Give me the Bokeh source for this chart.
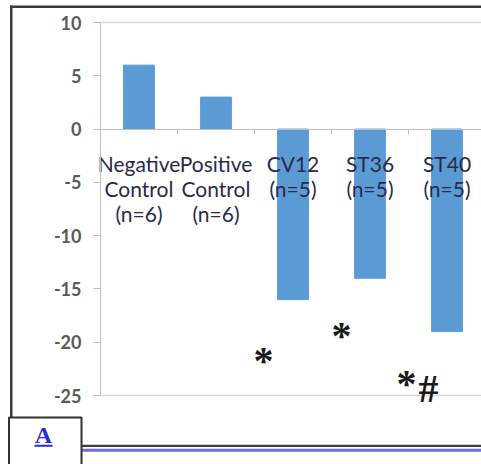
import numpy as np
from bokeh.plotting import figure
from bokeh.models import Range1d, FixedTicker, ColumnDataSource
from bokeh.core.properties import value
from bokeh.embed import file_html
from bokeh.resources import INLINE

# ---- data ----
categories = ["Negative Control", "Positive Control", "CV12", "ST36", "ST40"]
category_labels = ["Negative\nControl\n(n=6)", "Positive\nControl\n(n=6)", "CV12\n(n=5)", "ST36\n(n=5)", "ST40\n(n=5)"]
values = [6, 3, -16, -14, -19]
y_ticks = [-25, -20, -15, -10, -5, 0, 5, 10]
sig_marks = ["*", "*", "*", "#"]
sig_groups = ["CV12", "ST36", "ST40", "ST40"]
sig_y = [-21.75, -19.35, -23.9, -24.3]
sig_dx = [-0.383, -0.37, -0.526, -0.24]   # horizontal offset from the category centre

# ---- page geometry (pixels) ----
W, H = 481, 464
AXIS_PX = 100          # x pixel of the value axis
CAT_PX = 77            # width of one category
Y_TOP_PX, Y_BOT_PX = 22, 395   # pixel rows of the y-range ends
y_lo, y_hi = min(y_ticks), max(y_ticks)
PPU = (Y_BOT_PX - Y_TOP_PX) / (y_hi - y_lo)

def dx(px):
    return (px - AXIS_PX) / CAT_PX

def dy(py):
    return y_hi - (py - Y_TOP_PX) / PPU

xs = np.arange(len(categories)) + 0.5
src = ColumnDataSource(dict(x=xs, top=values, label=category_labels, zero=[0] * len(categories)))
sig_x = [categories.index(g) + 0.5 + d for g, d in zip(sig_groups, sig_dx)]
sig_src = ColumnDataSource(dict(x=sig_x, y=sig_y, text=sig_marks))

p = figure(width=W, height=H, output_backend="svg", toolbar_location=None,
           x_range=Range1d(dx(0), dx(W)), y_range=Range1d(dy(H), dy(0)),
           min_border=0)
p.outline_line_color = None
p.grid.visible = False
p.background_fill_color = "white"
p.border_fill_color = "white"

# ---- page decorations ----
def pbox(l, r, t, b, **kw):
    p.quad(left=dx(l), right=dx(r), top=dy(t), bottom=dy(b), **kw)

pbox(9.5, W + 2, 5, 7.5, fill_color="#3a3a3a", line_color=None)
pbox(9.5, 12, 5, 417, fill_color="#3a3a3a", line_color=None)
pbox(81, W + 2, 444.3, 446.5, fill_color="#404040", line_color=None)
pbox(81, W + 2, 448.3, 451.3, fill_color="#6a6ae8", line_color=None)
pbox(8.5, 81, 417, H + 5, fill_color="white", line_color="#333333", line_width=2)
p.text(x=[dx(43)], y=[dy(434)], text=["A"], text_align="center", text_baseline="middle",
       text_font=value("Liberation Serif"), text_font_style="bold", text_font_size="24px",
       text_color="#2b2bdd")
pbox(34, 52, 444.2, 446.2, fill_color="#2b2bdd", line_color=None)

# plot-area top / bottom border
x_end = dx(W + 2)
p.segment(x0=[0, 0], x1=[x_end, x_end], y0=[y_hi, y_lo], y1=[y_hi, y_lo],
          line_color="#d9d9d9", line_width=1.5)

p.vbar(x="x", top="top", bottom=0, width=0.4, color="#5b9bd5", source=src)

# y axis
ya = p.yaxis[0]
ya.fixed_location = 0
ya.bounds = (y_lo, y_hi)
ya.ticker = FixedTicker(ticks=y_ticks)
ya.major_label_overrides = {t: str(t) for t in y_ticks}
ya.axis_line_color = "#bfbfbf"
ya.major_tick_line_color = "#bfbfbf"
ya.major_tick_out = 7
ya.major_tick_in = 0
ya.minor_tick_line_color = None
ya.major_label_standoff = 12
ya.major_label_text_font = "Lato"
ya.major_label_text_font_style = "bold"
ya.major_label_text_font_size = "18px"
ya.major_label_text_color = "#595959"

# x axis at zero with ticks between categories
xa = p.xaxis[0]
xa.fixed_location = 0
xa.bounds = (0, x_end)
xa.ticker = FixedTicker(ticks=[], minor_ticks=list(range(1, len(categories))))
xa.axis_line_color = "#bfbfbf"
xa.major_tick_line_color = None
xa.minor_tick_line_color = "#bfbfbf"
xa.minor_tick_out = 5
xa.minor_tick_in = 0

# category labels
p.text(x="x", y="zero", text="label", source=src, text_align="center", text_baseline="top",
       y_offset=22, text_font=value("Lato"), text_font_size="21px", text_color="#2a2a48",
       text_line_height=1.0)

# significance marks
p.text(x="x", y="y", text="text", source=sig_src, text_align="center", text_baseline="middle",
       text_font=value("Liberation Serif"), text_font_style="bold", text_font_size="40px",
       text_color="#1a1a1a")

open("out.html", "w").write(file_html(p, INLINE))
